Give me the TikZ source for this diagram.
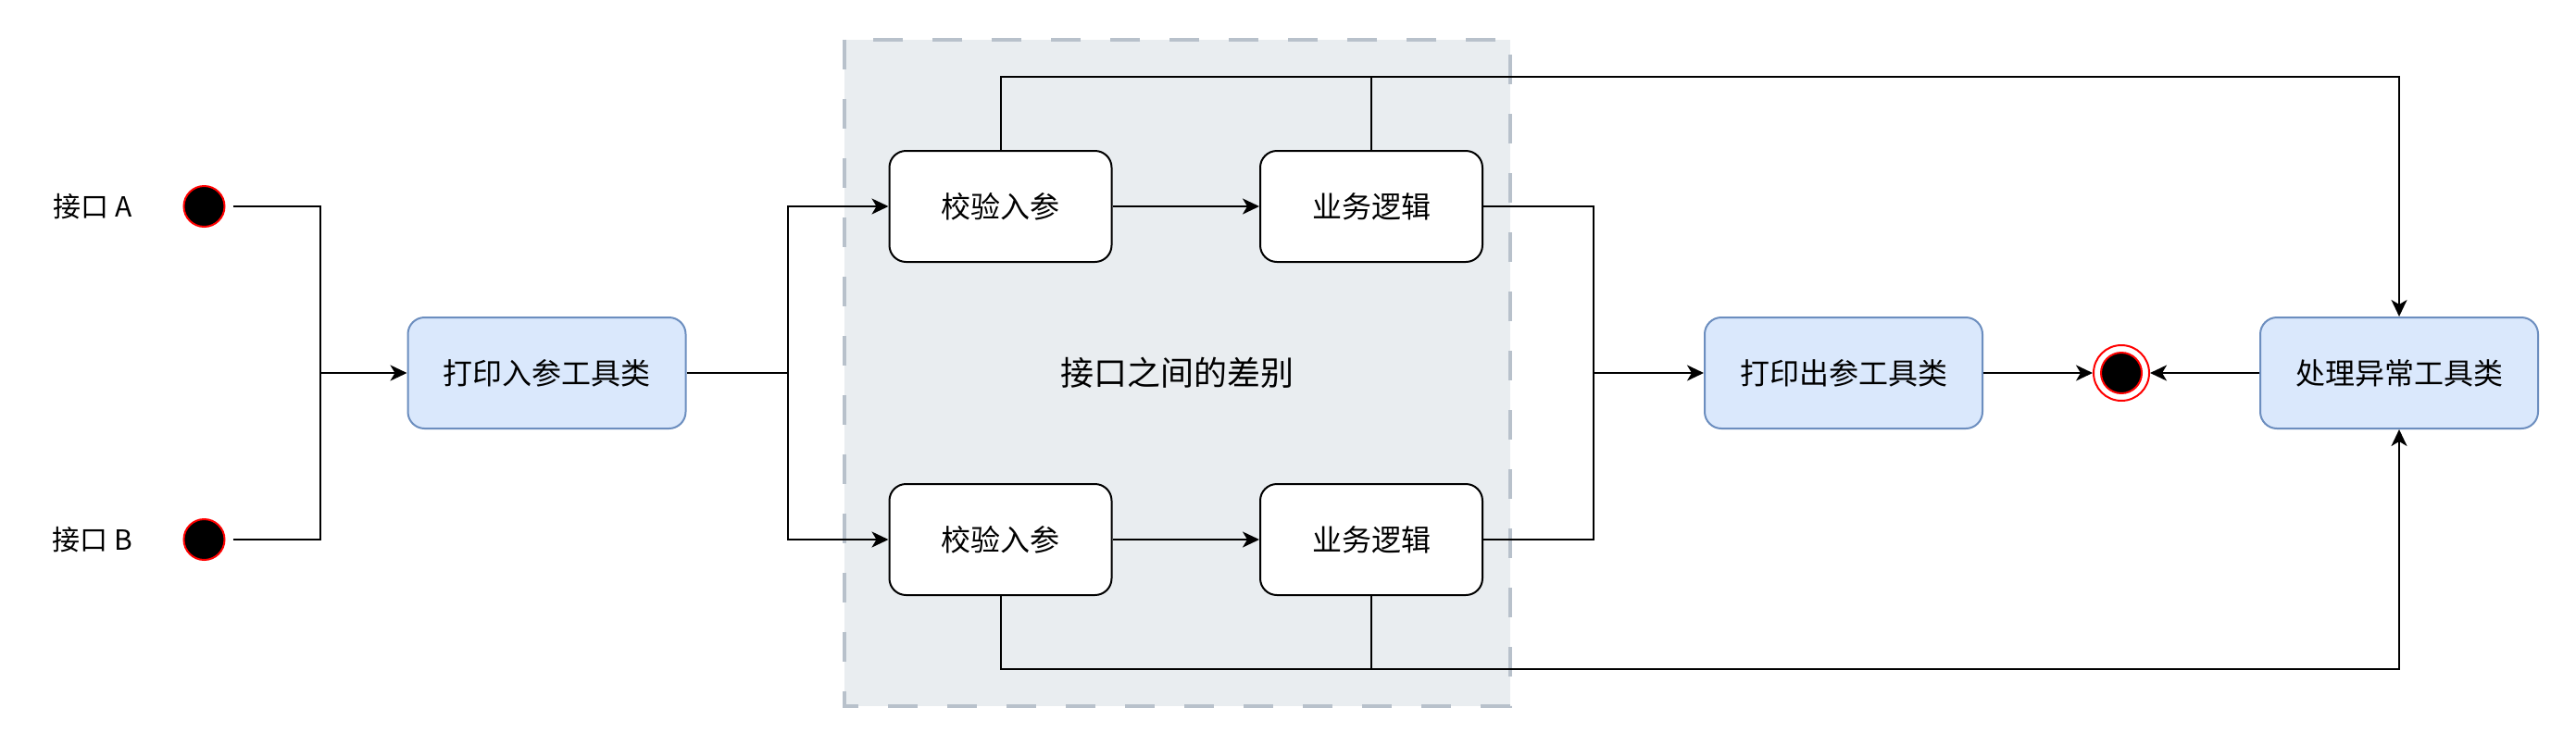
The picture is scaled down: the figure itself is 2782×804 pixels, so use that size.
\documentclass[tikz,border=0pt]{standalone}
\usepackage{fontspec}
\setmainfont{Noto Sans CJK SC}
\usetikzlibrary{arrows.meta}
\definecolor{bluefill}{HTML}{DAE8FC}
\definecolor{bluedraw}{HTML}{6C8EBF}
\definecolor{grpfill}{HTML}{E9EDF0}
\definecolor{grpdraw}{HTML}{B8C1CB}
\begin{document}
\begin{tikzpicture}[x=1pt,y=-1pt,
  tool/.style={draw=bluedraw, fill=bluefill, line width=2pt, rounded corners=18pt, minimum width=300pt, minimum height=120pt, font=\fontsize{32}{38}\selectfont, inner sep=0pt},
  stepbox/.style={draw=black, fill=white, line width=2pt, rounded corners=18pt, minimum width=240pt, minimum height=120pt, font=\fontsize{32}{38}\selectfont, inner sep=0pt},
  startdot/.style={circle, draw=red, fill=black, line width=2pt, minimum size=44pt, inner sep=0pt},
  enddot/.style={circle, draw=red, fill=white, line width=2pt, minimum size=60pt, inner sep=0pt},
  group/.style={fill=grpfill, minimum width=719pt, minimum height=720pt, inner sep=0pt, font=\fontsize{36}{42}\selectfont},
  grpline/.style={draw=grpdraw, line width=4pt, dash pattern=on 32pt off 32pt},
  conn/.style={line width=2pt, draw=black},
  arr/.style={conn, -{Stealth[length=18pt,width=17pt,inset=5pt]}},
  lbl/.style={font=\fontsize{30}{36}\selectfont, inner sep=0pt}
]
\fill[white] (0,0) rectangle (2782,804);
\useasboundingbox (0,0) rectangle (2782,804);

% group
\node[group] (grp) at (1271.5,403) {接口之间的差别};
\draw[grpline] (grp.north west) rectangle (grp.south east);

% labels and start states
\node[lbl] (la) at (100,223) {接口 A};
\node[lbl] (lb) at (100,583) {接口 B};
\node[startdot] (A) at (220.5,223) {};
\node[startdot] (B) at (220.5,583) {};

% nodes
\node[tool] (p1) at (590.5,403) {打印入参工具类};
\node[stepbox] (c1) at (1080.5,223) {校验入参};
\node[stepbox] (b1) at (1481,223) {业务逻辑};
\node[stepbox] (c2) at (1080.5,583) {校验入参};
\node[stepbox] (b2) at (1481,583) {业务逻辑};
\node[tool] (out) at (1991,403) {打印出参工具类};
\node[enddot] (end) at (2291,403) {};
\node[startdot] (endin) at (2291,403) {};
\node[tool] (exc) at (2591,403) {处理异常工具类};

% junctions
\coordinate (jIn) at (346,403);
\coordinate (jMid) at (851,403);
\coordinate (jOut) at (1721,403);
\coordinate (topR) at (2591,83);
\coordinate (botR) at (2591,723);

% connectors
\draw[arr] ([xshift=8pt]A.east) -| (jIn) -- (p1.west);
\draw[conn] ([xshift=8pt]B.east) -| (jIn);
\draw[conn] (p1.east) -- (jMid);
\draw[arr] (jMid) |- (c1.west);
\draw[arr] (jMid) |- (c2.west);
\draw[arr] (c1.east) -- (b1.west);
\draw[arr] (c2.east) -- (b2.west);
\draw[arr] (b1.east) -| (jOut) -- (out.west);
\draw[conn] (b2.east) -| (jOut);
\draw[arr] (out.east) -- (end.west);
\draw[arr] (exc.west) -- (end.east);
\draw[arr] (c1.north) |- (topR) -- (exc.north);
\draw[conn] (b1.north) -- (b1.north |- topR);
\draw[arr] (c2.south) |- (botR) -- (exc.south);
\draw[conn] (b2.south) -- (b2.south |- botR);
\end{tikzpicture}
\end{document}
